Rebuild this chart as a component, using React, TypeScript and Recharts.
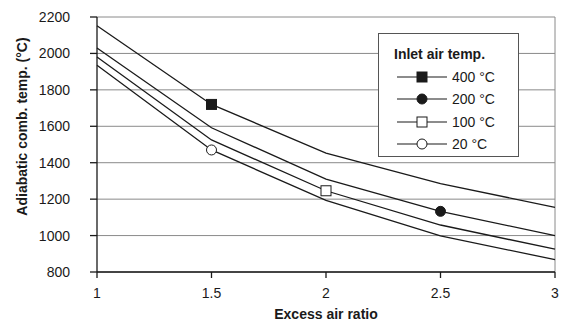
import React from 'react';
import {
  LineChart,
  Line,
  XAxis,
  YAxis,
  CartesianGrid,
  ReferenceLine,
} from 'recharts';

const RATIOS = [1, 1.5, 2, 2.5, 3];
const T400 = [2152, 1720, 1453, 1285, 1155];
const T200 = [2030, 1592, 1310, 1133, 1000];
const T100 = [1980, 1525, 1246, 1058, 925];
const T20 = [1935, 1470, 1193, 998, 868];
const X_TICKS = [1, 1.5, 2, 2.5, 3];
const Y_TICKS = [800, 1000, 1200, 1400, 1600, 1800, 2000, 2200];

const data = RATIOS.map((r, i) => ({ r, t400: T400[i], t200: T200[i], t100: T100[i], t20: T20[i] }));

type Kind = 'fsq' | 'fci' | 'osq' | 'oci';

const SERIES: { key: string; name: string; kind: Kind; at: number }[] = [
  { key: 't400', name: '400 °C', kind: 'fsq', at: 1 },
  { key: 't200', name: '200 °C', kind: 'fci', at: 3 },
  { key: 't100', name: '100 °C', kind: 'osq', at: 2 },
  { key: 't20', name: '20 °C', kind: 'oci', at: 1 },
];

const FONT = '"Liberation Sans", Arial, sans-serif';
const INK = '#1a1a1a';

const Marker = ({ kind, cx, cy }: { kind: Kind; cx: number; cy: number }) => {
  const fill = kind === 'fsq' || kind === 'fci' ? INK : '#fff';
  if (kind === 'fsq' || kind === 'osq')
    return <rect x={cx - 5} y={cy - 5} width={10} height={10} fill={fill} stroke={INK} strokeWidth={1} />;
  return <circle cx={cx} cy={cy} r={5} fill={fill} stroke={INK} strokeWidth={1} />;
};

const makeDot = (kind: Kind, at: number) => (props: any) => {
  if (props.index !== at) return <g key={`d-${props.index}`} />;
  return (
    <g key={`d-${props.index}`}>
      <Marker kind={kind} cx={props.cx} cy={props.cy} />
    </g>
  );
};

const LegendBox = () => (
  <div
    style={{
      position: 'absolute',
      left: 378,
      top: 33,
      border: '1px solid #555',
      background: '#fff',
      width: 141,
      height: 124,
      boxSizing: 'border-box',
      padding: '12px 0 0 15px',
      fontFamily: FONT,
      fontSize: 14,
      color: INK,
    }}
  >
    <div style={{ fontWeight: 'bold', marginBottom: 4 }}>Inlet air temp.</div>
    {SERIES.map((s) => (
      <div key={s.key} style={{ display: 'flex', alignItems: 'center', height: 22.3 }}>
        <svg width={52} height={14} style={{ marginLeft: 3 }}>
          <line x1={0} y1={7} x2={50} y2={7} stroke={INK} strokeWidth={1.2} />
          <Marker kind={s.kind} cx={25} cy={7} />
        </svg>
        <span style={{ marginLeft: 3 }}>{s.name}</span>
      </div>
    ))}
  </div>
);

const YLabel = (props: any) => {
  const vb = props.viewBox || {};
  const x = 22;
  const y = vb.y + vb.height / 2 - 18;
  return (
    <text
      x={x}
      y={y}
      transform={`rotate(-90, ${x}, ${y})`}
      textAnchor="middle"
      dominantBaseline="central"
      fontFamily={FONT}
      fontSize={14}
      fontWeight="bold"
      fill={INK}
    >
      Adiabatic comb. temp. (°C)
    </text>
  );
};

export default function App() {
  return (
    <div style={{ position: 'absolute', left: 0, top: 0, width: 562, height: 324, background: '#fff' }}>
      <LineChart width={562} height={324} data={data} margin={{ top: 17, right: 7, bottom: 5, left: 7 }}>
        <CartesianGrid vertical={false} stroke="#8a8a8a" strokeWidth={1} />
        <ReferenceLine x={3} stroke="#8a8a8a" />
        <XAxis
          dataKey="r"
          type="number"
          domain={[1, 3]}
          ticks={X_TICKS}
          allowDecimals
          height={47}
          tickFormatter={(v) => String(v)}
          stroke={INK}
          strokeWidth={1.3}
          tickSize={6}
          tickMargin={10}
          tick={{ fontFamily: FONT, fontSize: 14, fill: INK }}
          label={{
            value: 'Excess air ratio',
            position: 'insideBottom',
            offset: 0,
            style: { fontFamily: FONT, fontSize: 14, fontWeight: 'bold', fill: INK },
          }}
        />
        <YAxis
          type="number"
          domain={[800, 2200]}
          ticks={Y_TICKS}
          interval={0}
          width={90}
          stroke={INK}
          strokeWidth={1.3}
          tickSize={7}
          tickMargin={20}
          tick={{ fontFamily: FONT, fontSize: 14, fill: INK }}
          label={YLabel}
        />
        {SERIES.map((s) => (
          <Line
            key={s.key}
            dataKey={s.key}
            name={s.name}
            type="linear"
            stroke={INK}
            strokeWidth={1.3}
            dot={makeDot(s.kind, s.at)}
            activeDot={false}
            isAnimationActive={false}
          />
        ))}
      </LineChart>
      <LegendBox />
    </div>
  );
}
